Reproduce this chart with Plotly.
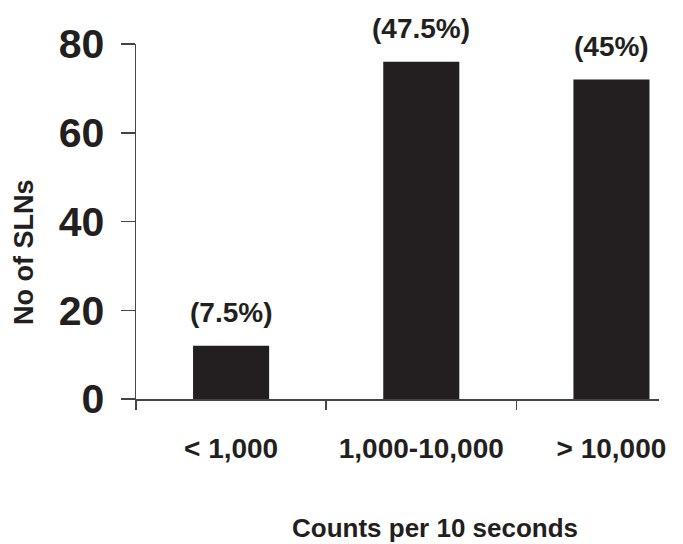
import plotly.graph_objects as go

categories = ["< 1,000", "1,000-10,000", "> 10,000"]
counts = [12, 76, 72]
percent_labels = ["(7.5%)", "(47.5%)", "(45%)"]
y_ticks = [0, 20, 40, 60, 80]

INK = "#231f20"
BOLD = "Liberation Sans, Arial, sans-serif"

xpos = list(range(len(categories)))

fig = go.Figure()
fig.add_trace(go.Bar(
    x=xpos, y=counts, width=0.4,
    marker=dict(color=INK, line=dict(width=0)),
    hoverinfo="skip",
))

for i, (v, t) in enumerate(zip(counts, percent_labels)):
    fig.add_annotation(x=i, y=v, text=f"<b>{t}</b>", showarrow=False,
                       yshift=33, yanchor="middle", xanchor="center",
                       font=dict(family=BOLD, size=28, color=INK))

fig.add_annotation(xref="paper", yref="paper", x=(435 - 136) / 523, y=(399 - 528) / 355,
                   text="<b>Counts per 10 seconds</b>", showarrow=False,
                   xanchor="center", yanchor="middle",
                   font=dict(family=BOLD, size=26, color=INK))
fig.add_annotation(xref="paper", yref="paper", x=(24 - 136) / 523, y=(399 - 252) / 355,
                   text="<b>No of SLNs</b>", showarrow=False, textangle=-90,
                   xanchor="center", yanchor="middle",
                   font=dict(family=BOLD, size=27, color=INK))

fig.update_layout(
    width=683, height=544,
    margin=dict(l=136, r=24, t=44, b=145),
    paper_bgcolor="white", plot_bgcolor="white",
    showlegend=False,
    xaxis=dict(
        range=[-0.5, 2.25],
        tickmode="array", tickvals=xpos, ticktext=[f"<b>{c}</b>" for c in categories],
        ticks="", showgrid=False, zeroline=False,
        showline=True, linecolor="#444", linewidth=1.5,
        tickfont=dict(family=BOLD, size=28, color=INK),
        ticklabelstandoff=24,
        minor=dict(tickmode="array", tickvals=[-0.5, 0.5, 1.5], ticks="outside",
                   ticklen=9, tickwidth=1.5, tickcolor="#444", showgrid=False),
        fixedrange=True,
    ),
    yaxis=dict(
        range=[0, 80],
        tickmode="array", tickvals=y_ticks, ticktext=[f"<b>{v}</b>" for v in y_ticks],
        ticks="outside", ticklen=14, tickwidth=1.5, tickcolor="#444",
        showgrid=False, zeroline=False,
        showline=True, linecolor="#444", linewidth=1.5,
        tickfont=dict(family=BOLD, size=41, color=INK),
        ticklabelstandoff=8,
        fixedrange=True,
    ),
)

fig.write_html(
    "out.html",
    config={"displayModeBar": False, "staticPlot": True},
    post_script="document.body.style.margin='0';document.body.style.overflow='hidden';",
)
